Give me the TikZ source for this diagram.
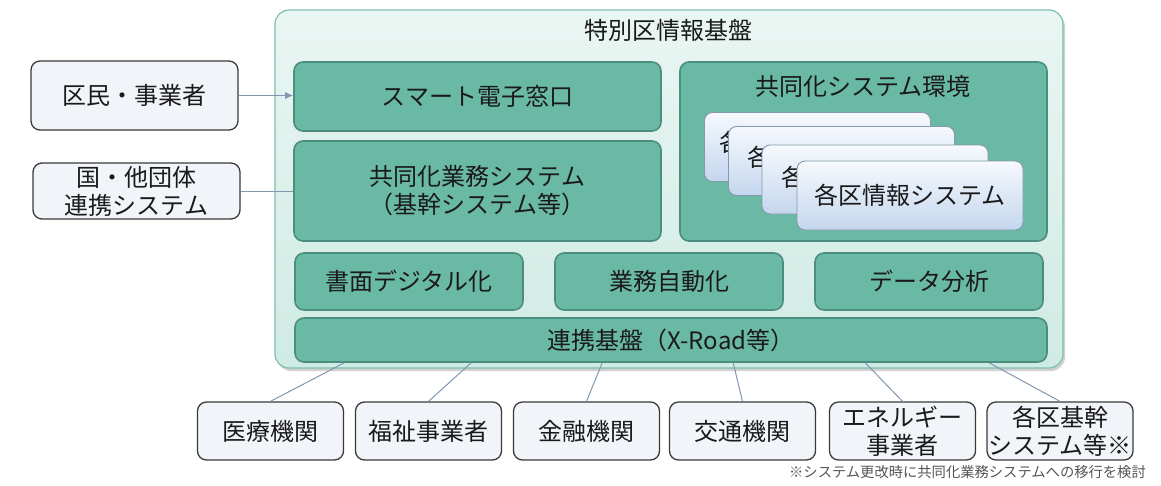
\documentclass[tikz,border=0pt]{standalone}
\usepackage{fontspec}
\setmainfont{Noto Sans CJK JP}
\usetikzlibrary{shadows,arrows.meta}
\definecolor{txt}{HTML}{1A1A1A}
\definecolor{tealfill}{HTML}{6AB9A4}
\definecolor{tealdark}{HTML}{4C8E7E}
\definecolor{outertop}{HTML}{EAF6F3}
\definecolor{outerbot}{HTML}{CFEBE3}
\definecolor{outerborder}{HTML}{7DBFAF}
\definecolor{extfill}{HTML}{F1F4F8}
\definecolor{extborder}{HTML}{3A3A3A}
\definecolor{cardtop}{HTML}{F6F9FD}
\definecolor{cardbot}{HTML}{C4D6EE}
\definecolor{cardborder}{HTML}{8797AC}
\definecolor{linkc}{HTML}{8196B0}
\definecolor{notec}{HTML}{555555}
\begin{document}
\begin{tikzpicture}[x=1pt,y=-1pt,
  every node/.style={font=\fontsize{24}{28}\selectfont, text=txt, align=center, inner sep=0pt},
  outerbox/.style={draw=outerborder, line width=1.2pt, top color=outertop, bottom color=outerbot, rounded corners=14pt,
     drop shadow={shadow xshift=2pt, shadow yshift=-3pt, opacity=0.3, fill=black!60}},
  tealbox/.style={draw=tealdark, line width=1.6pt, fill=tealfill, rounded corners=9pt},
  extbox/.style={draw=extborder, line width=1.3pt, fill=extfill, rounded corners=9pt},
  cardbox/.style={draw=cardborder, line width=0.9pt, top color=cardtop, bottom color=cardbot, rounded corners=8pt, minimum width=226pt, minimum height=69pt},
  botbox/.style={extbox, minimum width=146pt, minimum height=58pt},
  link/.style={draw=linkc, line width=1pt}]
\useasboundingbox (0,0) rectangle (1161,485);

% outer frame
\node[outerbox, minimum width=788pt, minimum height=358pt] (frame) at (669,189) {};
\node (title) at (668,30) {特別区情報基盤};

% inner boxes
\node[tealbox, minimum width=367pt, minimum height=69pt] (smart) at (477.5,96.5) {スマート電子窓口};
\node[tealbox, minimum width=367pt, minimum height=100pt] (kyodo) at (477.5,191) {共同化業務システム\\（基幹システム等）};
\node[tealbox, minimum width=367pt, minimum height=179pt] (kankyo) at (863.5,151.5) {};
\node (kankyolabel) at (863,86) {共同化システム環境};
\node[cardbox] (card1) at (817.5,147) {};
\node[anchor=west] (card1txt) at (719,142) {各};
\node[cardbox] (card2) at (841.5,161) {};
\node[anchor=west] (card2txt) at (747,157) {各};
\node[cardbox] (card3) at (875,179.5) {};
\node[anchor=west] (card3txt) at (781,177) {各};
\node[cardbox] (card4) at (910,195.5) {各区情報システム};

\node[tealbox, minimum width=228pt, minimum height=57pt] (shomen) at (409,281.5) {書面デジタル化};
\node[tealbox, minimum width=228pt, minimum height=57pt] (jidoka) at (669,281.5) {業務自動化};
\node[tealbox, minimum width=228pt, minimum height=57pt] (bunseki) at (929,281.5) {データ分析};
\node[tealbox, minimum width=752pt, minimum height=44pt] (renkei) at (671,340) {連携基盤（X-Road等）};

% left external boxes
\node[extbox, minimum width=207pt, minimum height=69pt] (kumin) at (134.5,95.5) {区民・事業者};
\node[extbox, minimum width=207pt, minimum height=56pt] (kuni) at (136.5,191) {国・他団体\\連携システム};
\draw[link, -{Latex[length=8pt,width=7pt]}] (kumin.east) -- (kumin.east -| smart.west);
\draw[link] (kuni.east) -- (kuni.east -| kyodo.west);

% bottom boxes
\node[botbox] (iryo) at (270.5,431) {医療機関};
\node[botbox] (fukushi) at (428.5,431) {福祉事業者};
\node[botbox] (kinyu) at (586.5,431) {金融機関};
\node[botbox] (kotsu) at (742.5,431) {交通機関};
\node[botbox] (energy) at (902.5,431) {エネルギー\\事業者};
\node[botbox] (kakku) at (1060,431) {各区基幹\\システム等※};

\draw[link] ([xshift=50pt]renkei.south west) -- (iryo.north);
\draw[link] ([xshift=177pt]renkei.south west) -- (fukushi.north);
\draw[link] ([xshift=308pt]renkei.south west) -- (kinyu.north);
\draw[link] ([xshift=439pt]renkei.south west) -- (kotsu.north);
\draw[link] ([xshift=571pt]renkei.south west) -- (energy.north);
\draw[link] ([xshift=695pt]renkei.south west) -- (kakku.north);

\node[anchor=east, font=\fontsize{14.3}{16}\selectfont, text=notec] (note) at (1146,472) {※システム更改時に共同化業務システムへの移行を検討};
\end{tikzpicture}
\end{document}
